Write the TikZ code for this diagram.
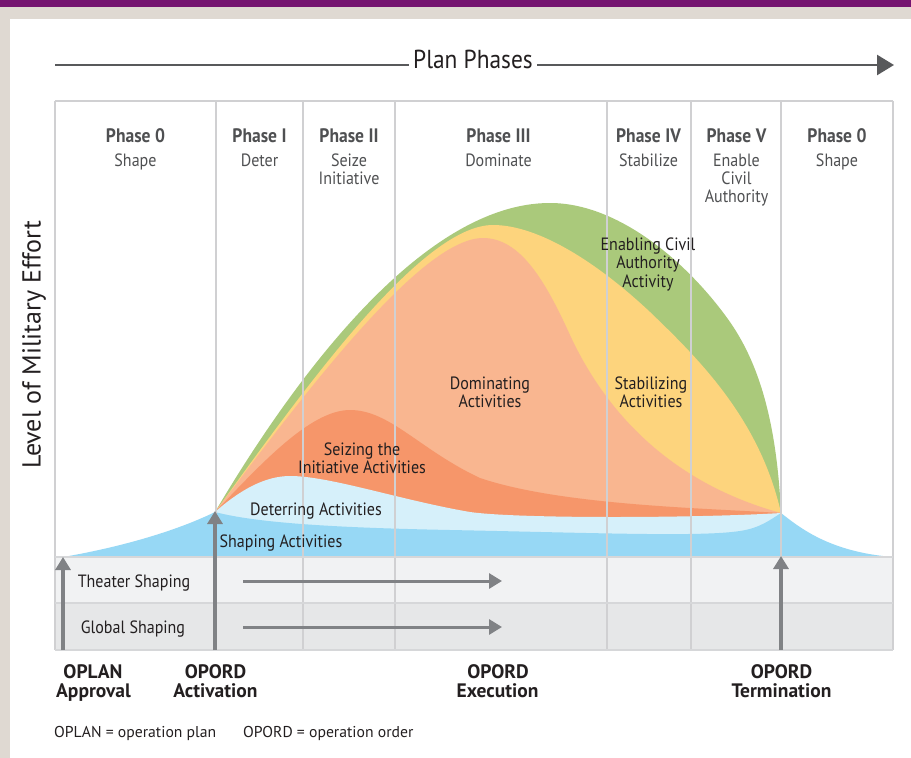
\documentclass[tikz,border=0pt]{standalone}
\usepackage{fontspec}
\setmainfont{PT Sans}
\newfontfamily\condf[FakeStretch=0.9]{PT Sans}
\usetikzlibrary{arrows.meta}
\definecolor{beige}{HTML}{DFD9D2}
\definecolor{purp}{HTML}{751470}
\definecolor{cgreen}{HTML}{AAC97B}
\definecolor{cyellow}{HTML}{FDD47D}
\definecolor{clorange}{HTML}{F9B690}
\definecolor{cdorange}{HTML}{F6966A}
\definecolor{clblue}{HTML}{D6F0FA}
\definecolor{cblue}{HTML}{97D8F5}
\definecolor{gridc}{HTML}{D0D0D2}
\definecolor{rowline}{HTML}{D6D7D9}
\definecolor{rowa}{HTML}{F1F2F3}
\definecolor{rowb}{HTML}{E6E7E8}
\definecolor{arrc}{HTML}{808285}
\definecolor{txt}{HTML}{231F20}
\definecolor{hdr}{HTML}{4F5052}
\definecolor{pparr}{HTML}{58595B}
\begin{document}
\begin{tikzpicture}[x=1pt,y=-1pt,
  lab/.style={font=\condf\fontsize{17.8}{18}\selectfont, text=txt, anchor=base, inner sep=0pt},
  phtitle/.style={font=\condf\bfseries\fontsize{19.5}{20}\selectfont, text=hdr, anchor=base, inner sep=0pt},
  phsub/.style={font=\condf\fontsize{17.8}{18}\selectfont, text=hdr, anchor=base, inner sep=0pt},
  boldlab/.style={font=\bfseries\fontsize{19.5}{20}\selectfont, text=txt, anchor=base, inner sep=0pt},
  foot/.style={font=\fontsize{15.7}{16}\selectfont, text=txt, anchor=base west, inner sep=0pt},
  garrow/.style={draw=arrc, line width=3.5pt, -{Triangle[length=13pt,width=15pt]}},
  gridline/.style={draw=gridc, line width=1.2pt},
  rowsep/.style={draw=rowline, line width=2pt}]
\useasboundingbox (0,0) rectangle (911,758);
% frame
\fill[beige] (0,0) rectangle (911,758);
\fill[purp] (0,0) rectangle (911,7);
\fill[white] (10,19) rectangle (911,758);
% rows
\fill[rowa] (55,557) rectangle (893,603);
\fill[rowb] (55,603) rectangle (893,650);
% activity layers
\fill[cgreen] (215,512) .. controls (290,385) and (420,203) .. (550,203)
  .. controls (620,203) and (690,265) .. (730,322)
  .. controls (762,368) and (777,430) .. (781,513) -- (781,557) -- (215,557) -- cycle;
\fill[cyellow] (215,512) .. controls (300,395) and (420,225) .. (493,225)
  .. controls (540,225) and (600,265) .. (650,312)
  .. controls (700,360) and (760,420) .. (781,513) -- (781,557) -- (215,557) -- cycle;
\fill[clorange] (215,512) .. controls (300,400) and (420,238) .. (483,238)
  .. controls (520,238) and (545,280) .. (570,335)
  .. controls (600,400) and (660,480) .. (781,513) -- (781,557) -- (215,557) -- cycle;
\fill[cdorange] (215,512) .. controls (260,465) and (310,410) .. (350,410)
  .. controls (390,410) and (420,450) .. (480,478)
  .. controls (560,505) and (700,508) .. (781,513) -- (781,557) -- (215,557) -- cycle;
\fill[clblue] (215,512) .. controls (240,490) and (265,476) .. (290,476)
  .. controls (330,476) and (400,500) .. (470,512)
  .. controls (520,519) and (700,518) .. (781,513) -- (781,557) -- (215,557) -- cycle;
\fill[cblue] (63,557) .. controls (110,549) and (170,534) .. (215,512)
  .. controls (260,524) and (350,528) .. (450,530)
  .. controls (600,533) and (700,537) .. (740,531)
  .. controls (760,528) and (770,520) .. (781,513)
  .. controls (800,528) and (830,552) .. (893,557) -- cycle;
% grid
\foreach \x in {55,216,303,395,607,691,781,893}
  \draw[gridline] (\x,101) -- (\x,650);
\draw[gridline] (55,101) -- (893,101);
\draw[rowsep] (55,557) -- (893,557);
\draw[rowsep] (55,603) -- (893,603);
\draw[rowsep] (55,650) -- (893,650);
% plan phases arrow
\coordinate (ppL) at (55,65);
\coordinate (ppR) at (894,65);
\draw[draw=pparr, line width=2.5pt, -{Triangle[length=17pt,width=20pt]}] (ppL) -- (ppR);
\node[font=\condf\fontsize{26}{28}\selectfont, text=txt, fill=white, inner xsep=4pt, inner ysep=7pt, anchor=base] (pp) at (473,68) {Plan Phases};
% axis label
\node[font=\fontsize{26}{28}\selectfont, text=txt, rotate=90, inner sep=0pt] (yl) at (34,345) {Level of Military Effort};
% phase headers
\node[phtitle] (h0) at (135.5,142) {Phase 0};
\node[phsub] (s0) at (135.5,166) {Shape};
\node[phtitle] (h1) at (259.5,142) {Phase I};
\node[phsub] (s1) at (259.5,166) {Deter};
\node[phtitle] (h2) at (349,142) {Phase II};
\node[phsub] (s2a) at (349,166) {Seize};
\node[phsub] (s2b) at (349,184) {Initiative};
\node[phtitle] (h3) at (498.5,142) {Phase III};
\node[phsub] (s3) at (498.5,166) {Dominate};
\node[phtitle] (h4) at (648.5,142) {Phase IV};
\node[phsub] (s4) at (648.5,166) {Stabilize};
\node[phtitle] (h5) at (736.5,142) {Phase V};
\node[phsub] (s5a) at (736.5,166) {Enable};
\node[phsub] (s5b) at (736.5,184) {Civil};
\node[phsub] (s5c) at (736.5,202) {Authority};
\node[phtitle] (h6) at (837,142) {Phase 0};
\node[phsub] (s6) at (837,166) {Shape};
% layer labels
\node[lab] (ea) at (648,250) {Enabling Civil};
\node[lab] (eb) at (648,268) {Authority};
\node[lab] (ec) at (648,287) {Activity};
\node[lab] (sta) at (651,389) {Stabilizing};
\node[lab] (stb) at (651,407) {Activities};
\node[lab] (doa) at (490,389) {Dominating};
\node[lab] (dob) at (490,407) {Activities};
\node[lab] (sea) at (362,455) {Seizing the};
\node[lab] (seb) at (362,473) {Initiative Activities};
\node[lab] (de) at (316,515) {Deterring Activities};
\node[lab] (sh) at (281,547) {Shaping Activities};
\node[lab] (ts) at (134,587) {Theater Shaping};
\node[lab] (gs) at (133,633) {Global Shaping};
% arrows
\coordinate (a1s) at (63,650);  \coordinate (a1e) at (63,557);
\coordinate (a2s) at (215,650); \coordinate (a2e) at (215,511);
\coordinate (a3s) at (781,650); \coordinate (a3e) at (781,556);
\coordinate (t1s) at (243,581); \coordinate (t1e) at (502,581);
\coordinate (t2s) at (243,627); \coordinate (t2e) at (502,627);
\draw[garrow] (a1s) -- (a1e);
\draw[garrow] (a2s) -- (a2e);
\draw[garrow] (a3s) -- (a3e);
\draw[garrow, line width=3pt] (t1s) -- (t1e);
\draw[garrow, line width=3pt] (t2s) -- (t2e);
% milestone labels
\node[boldlab] (m1a) at (93,678) {OPLAN};
\node[boldlab] (m1b) at (93.5,697) {Approval};
\node[boldlab] (m2a) at (215.5,678) {OPORD};
\node[boldlab] (m2b) at (215.5,697) {Activation};
\node[boldlab] (m3a) at (498,678) {OPORD};
\node[boldlab] (m3b) at (497.5,697) {Execution};
\node[boldlab] (m4a) at (781.5,678) {OPORD};
\node[boldlab] (m4b) at (781.5,697) {Termination};
% footnote
\node[foot] (f1) at (54,737) {OPLAN = operation plan};
\node[foot] (f2) at (243,737) {OPORD = operation order};
\end{tikzpicture}
\end{document}
